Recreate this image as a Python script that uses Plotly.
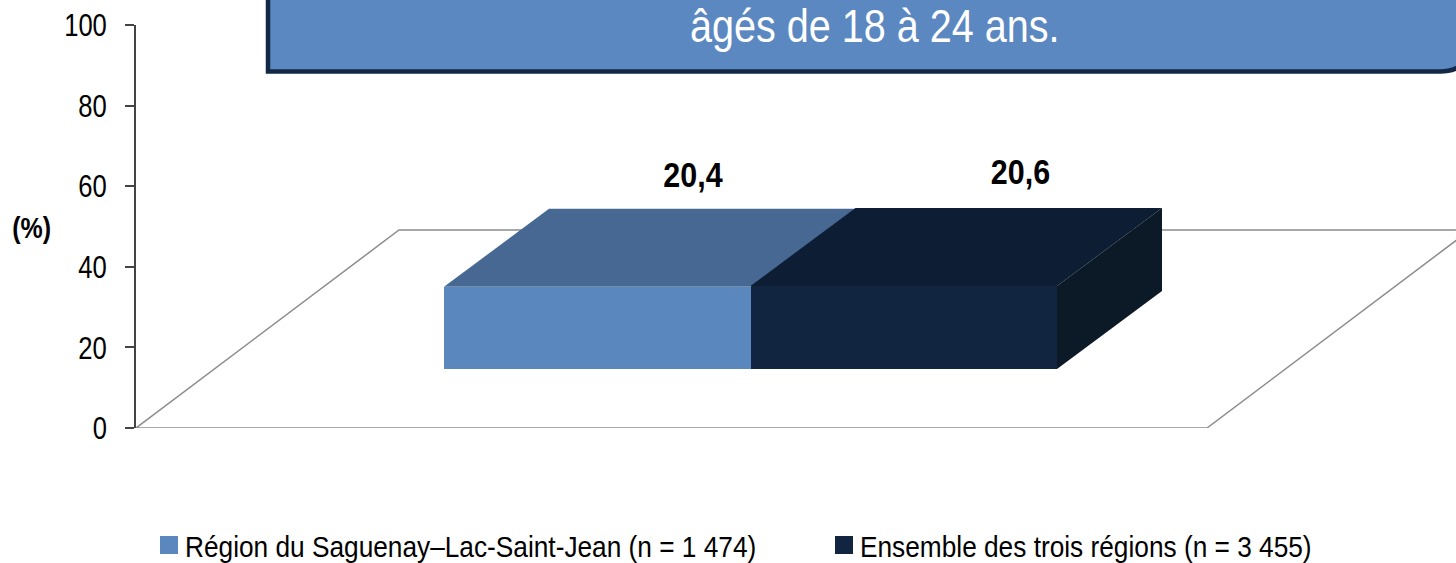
import plotly.graph_objects as go

categories = ["Région du Saguenay–Lac-Saint-Jean (n = 1 474)", "Ensemble des trois régions (n = 3 455)"]
values = [20.4, 20.6]
labels = ["20,4", "20,6"]
yticks = [0, 20, 40, 60, 80, 100]
callout = "âgés de 18 à 24 ans."

FONT = "Liberation Sans, Arial"
L, T, R, B = 136, 25, 0, 135
W, H = 1456, 563
U = (428 - 25) / 100  # px per axis unit
BASE = (428 - 369) / U
DX, DY = 105, 78 / U
BAR_W = 306.5
X0 = 444 - L
FRONT = ["#5B87BF", "#122540"]
TOP = ["#466892", "#0D1D33"]
SIDE = ["#466892", "#0C1A28"]
LABEL_DX = [249, 270]
LABEL_DY = [7.5, 8]
LEGEND_X = [145, 820]


def px(x):
    return (x - L) / (W - L)


def py(y):
    return 1 - (y - T) / (H - T - B)


fig = go.Figure()
fx = [0, 1071, 1071 + 263, 263, 0]
fy = [0, 0, 198 / U, 198 / U, 0]
fig.add_trace(go.Scatter(x=fx, y=fy, mode="lines", line=dict(color="#8C8C8C", width=1.5),
                         showlegend=False, hoverinfo="skip", cliponaxis=False))
for i, (c, v) in enumerate(zip(categories, values)):
    x0 = X0 + i * BAR_W
    x1 = x0 + BAR_W
    top = BASE + v
    fig.add_trace(go.Bar(x=[(x0 + x1) / 2], y=[v], base=[BASE], width=[BAR_W], showlegend=False,
                         marker=dict(color=FRONT[i], line=dict(width=0))))
    fig.add_trace(go.Scatter(x=[x0, x1, x1 + DX, x0 + DX, x0], y=[top, top, top + DY, top + DY, top],
                             mode="lines", fill="toself", fillcolor=TOP[i], line=dict(width=0),
                             showlegend=False, hoverinfo="skip"))
    if i == len(values) - 1:
        fig.add_trace(go.Scatter(x=[x1, x1 + DX, x1 + DX, x1, x1],
                                 y=[BASE, BASE + DY, top + DY, top, BASE],
                                 mode="lines", fill="toself", fillcolor=SIDE[i], line=dict(width=0),
                                 showlegend=False, hoverinfo="skip"))
    fig.add_trace(go.Scatter(x=[x0 + LABEL_DX[i]], y=[top + DY + LABEL_DY[i]], mode="text", text=[labels[i]],
                             textfont=dict(family=FONT, size=35, color="#000000"),
                             texttemplate="<b>%{text}</b>", showlegend=False, hoverinfo="skip",
                             cliponaxis=False))
    # legend entry
    fig.add_trace(go.Scatter(x=[None], y=[None], mode="markers", name=c,
                             legend="legend" if i == 0 else "legend2",
                             marker=dict(symbol="square", size=16, color=FRONT[i],
                                         line=dict(color=FRONT[i], width=2))))

fig.add_shape(type="path", xref="paper", yref="paper",
              path="M %f %f L %f %f L %f %f Q %f %f %f %f L %f %f Z" % (
                  px(268), py(-20), px(268), py(71.5), px(1440), py(71.5),
                  px(1470), py(71.5), px(1470), py(41.5), px(1470), py(-20)),
              fillcolor="#5B88C1", line=dict(color="#122845", width=4.5))
fig.add_annotation(x=px(875), y=py(26), xref="paper", yref="paper", text=callout, showarrow=False,
                   xanchor="center", yanchor="middle", font=dict(family=FONT, size=46, color="#FFFFFF"))
fig.add_annotation(xref="paper", yref="paper", x=px(31), y=py(228), xanchor="center", yanchor="middle",
                   text="<b>(%)</b>", showarrow=False, font=dict(family=FONT, size=29, color="#000000"))

legend_common = dict(orientation="h", y=py(545), xanchor="left", yanchor="middle",
                     font=dict(family=FONT, size=30, color="#000000"), itemclick=False,
                     itemdoubleclick=False, bgcolor="rgba(0,0,0,0)")
fig.update_layout(
    width=W, height=H, margin=dict(l=L, r=R, t=T, b=B, pad=0, autoexpand=False),
    paper_bgcolor="white", plot_bgcolor="white", barmode="overlay", bargap=0,
    xaxis=dict(range=[0, W - L], visible=False, fixedrange=True),
    yaxis=dict(range=[0, 100], tickvals=yticks, ticks="outside", ticklen=9, tickcolor="#444444", tickwidth=1.5,
               ticklabelstandoff=12,
               showgrid=False, zeroline=False, showline=True, linecolor="#444444", linewidth=1.5,
               tickfont=dict(family=FONT, size=32, color="#000000"), fixedrange=True),
    legend=dict(x=px(LEGEND_X[0]), **legend_common),
    legend2=dict(x=px(LEGEND_X[1]), **legend_common),
)

post = """
document.documentElement.style.margin='0';document.body.style.margin='0';
function narrow(sel, k){document.querySelectorAll(sel).forEach(function(t){
  if(t.getAttribute('data-narrow'))return;
  var n=t.getComputedTextLength();
  if(!n)return;
  t.setAttribute('data-narrow','1');
  t.setAttribute('lengthAdjust','spacingAndGlyphs');t.setAttribute('textLength',(n*k).toFixed(1));});}
function fit(){
  narrow('.ytick text',0.8);
  narrow('[class*=legend] text',0.875);
  narrow('.annotation-text',0.86);
  narrow('.textpoint text',0.87);
  document.querySelectorAll('.legendsymbols').forEach(function(g){g.setAttribute('transform','translate(4,0)');});
  document.querySelectorAll('.scrollbox').forEach(function(g){g.removeAttribute('clip-path');});
}
fit();
var c=0,h=setInterval(function(){fit();if(++c>40)clearInterval(h);},50);
"""
fig.write_html("out.html", post_script=post, config=dict(displayModeBar=False))
